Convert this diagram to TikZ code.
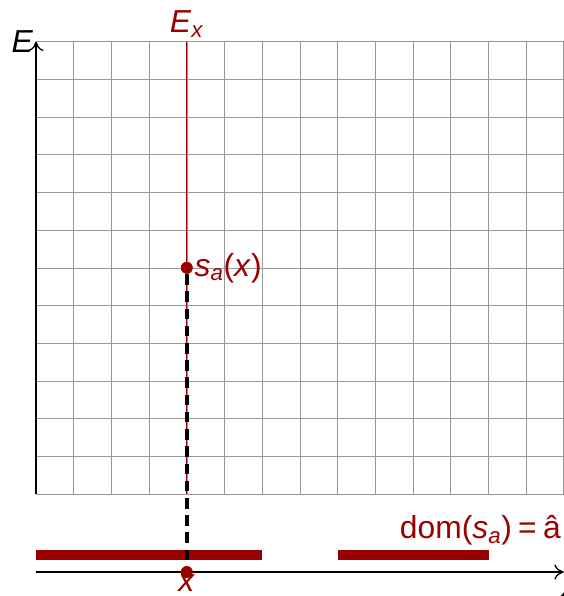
\documentclass[tikz,border=0pt]{standalone}
\usepackage{fontspec}
\setmainfont{Liberation Sans}
\usepackage{tikz}
\usetikzlibrary{arrows.meta, positioning}
\definecolor{sectred}{RGB}{153,0,0}

\begin{document}
\begin{tikzpicture}[
    lbl/.style={font=\fontsize{24}{28}\selectfont, inner sep=2pt},
    dot/.style={circle, fill=sectred, inner sep=0pt, minimum size=0.32cm},
    bar/.style={sectred, line width=0.25cm},
    axis/.style={-{To[length=2.5mm, width=4mm]}, line width=1pt, black},
  ]
  \useasboundingbox (-0.955,-2.706) rectangle (14.005,13.104);
  % Grid
  \draw[gray!80, thin] (0,0) grid (14,12);
  \draw[gray!80, thin] (0,12) -- (14.1,12);

  % Coordinates
  \coordinate (o) at (0,0);
  \coordinate (etop) at (0,12);
  \coordinate (xo) at (0,-2.07);
  \coordinate (xend) at (14.0,-2.07);
  \coordinate (fibtop) at (4,12);
  \coordinate (fibbot) at (4,0);

  % Axes
  \draw[axis] (o) -- (etop);
  \draw[axis] (xo) -- (xend);
  \node[lbl, left=0pt of etop] (elbl) {\textit{E}};
  \node[lbl, below right=0pt and -4pt of xend] (xlbl) {\textit{X}};

  % Fibre over x
  \draw[sectred, line width=0.7pt] (fibtop) -- (fibbot);
  \node[lbl, text=sectred, above=1pt of fibtop] (exlbl) {\textit{E}\textsubscript{\textit{x}}};

  % Domain
  \coordinate (b1l) at (0,-1.62);
  \coordinate (b1r) at (6,-1.62);
  \coordinate (b2l) at (8,-1.62);
  \coordinate (b2r) at (12.02,-1.62);
  \draw[bar] (b1l) -- (b1r);
  \draw[bar] (b2l) -- (b2r);
  \node[lbl, text=sectred, anchor=east] (domlbl) at (14.0,-0.95) {dom(\textit{s}\textsubscript{\textit{a}})\hspace{0.2em}=\hspace{0.2em}â};

  % Section value
  \node[dot] (sa) at (4,6) {};
  \node[dot] (x) at (4,-2.07) {};
  \draw[line width=3pt, dash pattern=on 8pt off 5pt, black] (sa) -- (x);
  \node[lbl, text=sectred, right=-1pt of sa] (salbl) {\textit{s}\textsubscript{\textit{a}}(\textit{x})};
  \node[lbl, text=sectred, below=-5pt of x] (xdlbl) {\textit{x}};
\end{tikzpicture}
\end{document}
